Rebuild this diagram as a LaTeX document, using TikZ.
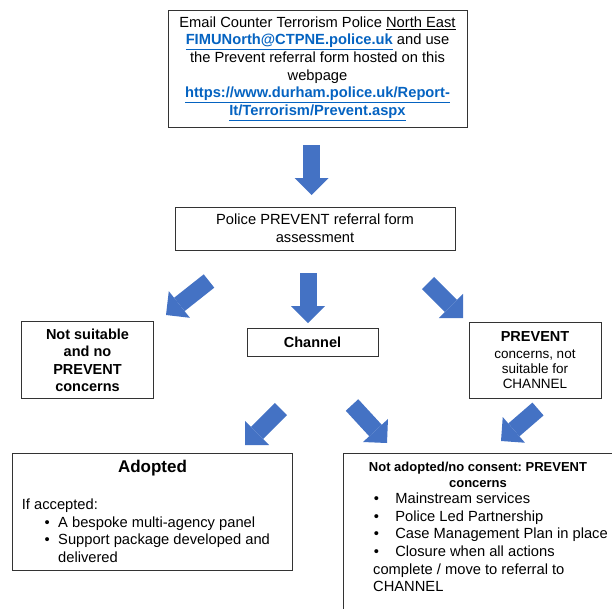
\documentclass[tikz,border=0pt]{standalone}
\usepackage{fontspec}
\setmainfont{Liberation Sans}
\usetikzlibrary{arrows.meta,positioning}
\definecolor{arrowblue}{HTML}{4472C4}
\definecolor{linkblue}{HTML}{0563C1}
\frenchspacing
\tikzset{
  box/.style={draw=black!80,line width=0.8pt,rectangle,inner sep=0pt},
  boldtext/.style={font=\fontsize{14.5}{17.6}\selectfont\bfseries},
  blockarrow/.style={draw=arrowblue,line width=17pt,-{Triangle[length=17pt,width=34pt,line width=0pt]}}
}
\newcommand{\weblink}[1]{\textcolor{linkblue}{\underline{\textbf{#1}}}}
\newcommand{\adoptitem}{\hspace*{22.7pt}\textbullet\hspace*{8.5pt}}
\newcommand{\consentitem}{\hspace*{0.6pt}\textbullet\hspace*{16.4pt}}

\begin{document}
\begin{tikzpicture}[x=1pt,y=-1pt,font=\fontsize{14.7}{17.6}\selectfont]
  \useasboundingbox (0,0) rectangle (612,608);
  \clip (0,0) rectangle (612,608);

  \node[box,minimum width=299pt,minimum height=117pt,align=center] (email) at (317.5,68.5)
    {Email Counter Terrorism Police \underline{North East}\\
     \weblink{FIMUNorth@CTPNE.police.uk} and use\\
     the Prevent referral form hosted on this\\
     webpage\\
     \weblink{https://www.durham.police.uk/Report-}\\
     \weblink{It/Terrorism/Prevent.aspx}};

  \node[box,minimum width=280pt,minimum height=43pt,align=center] (assess) at (315,228.5)
    {Police PREVENT referral form\\ assessment};

  \node[box,boldtext,minimum width=132pt,minimum height=77pt,align=center] (notsuitable) at (87.5,360.3)
    {Not suitable\\ and no\\ PREVENT\\ concerns};

  \node[box,boldtext,minimum width=131pt,minimum height=28pt] (channel) at (312.5,342) {Channel};

  \node[box,minimum width=132pt,minimum height=76pt,align=center,font=\fontsize{13.5}{15.3}\selectfont] (preventconcerns) at (535,360)
    {{\fontsize{14.5}{17}\selectfont\bfseries PREVENT}\\[1.5pt] concerns, not\\ suitable for\\ CHANNEL};

  \node[box,minimum width=280pt,minimum height=117pt] (adopted) at (152.8,511.5) {};
  \node[font=\fontsize{17}{20}\selectfont\bfseries] (adoptedtitle) at (152.5,468.2) {Adopted};
  \node[anchor=north west,align=left,inner sep=0pt] (adoptedlist) at (21.7,498.7)
    {If accepted:\\
     \adoptitem A bespoke multi-agency panel\\
     \adoptitem Support package developed and\\
     \hspace*{36.3pt}delivered};

  \node[box,anchor=north west,minimum width=272pt,minimum height=170pt] (notadopted) at (342.5,453) {};
  \node[font=\fontsize{13}{16.3}\selectfont\bfseries,align=center] (notadoptedtitle) at (478,474.8)
    {Not adopted/no consent: PREVENT\\ concerns};
  \node[anchor=north west,align=left,inner sep=0pt] (notadoptedlist) at (373,492.8)
    {\consentitem Mainstream services\\
     \consentitem Police Led Partnership\\
     \consentitem Case Management Plan in place\\
     \consentitem Closure when all actions\\
     complete / move to referral to\\
     CHANNEL};

  \coordinate (emailout) at (311.7,145);
  \coordinate (assessin) at (311.7,195);
  \coordinate (leftout) at (209,281);
  \coordinate (notsuitablein) at (166,315);
  \coordinate (midout) at (308,273);
  \coordinate (channelin) at (308,323);
  \coordinate (rightout) at (428,283);
  \coordinate (preventin) at (463,318);
  \coordinate (channelleft) at (281,409);
  \coordinate (adoptedin) at (245,445);
  \coordinate (channelright) at (352,405);
  \coordinate (notadoptedin) at (387,443);
  \coordinate (preventout) at (538,409);
  \coordinate (notadoptedin2) at (501,441);

  \draw[blockarrow] (emailout) -- (assessin);
  \draw[blockarrow] (leftout) -- (notsuitablein);
  \draw[blockarrow] (midout) -- (channelin);
  \draw[blockarrow] (rightout) -- (preventin);
  \draw[blockarrow] (channelleft) -- (adoptedin);
  \draw[blockarrow] (channelright) -- (notadoptedin);
  \draw[blockarrow] (preventout) -- (notadoptedin2);
\end{tikzpicture}
\end{document}
